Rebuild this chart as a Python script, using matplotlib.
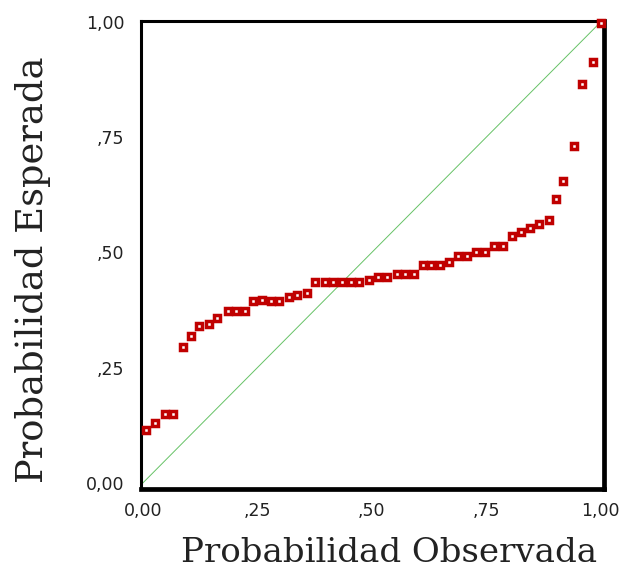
import matplotlib
matplotlib.use("Agg")
import matplotlib.pyplot as plt

# P-P plot values
observada = [0.008, 0.026, 0.048, 0.066, 0.087, 0.105, 0.123, 0.144, 0.163, 0.185,
             0.203, 0.223, 0.241, 0.260, 0.279, 0.298, 0.319, 0.336, 0.358, 0.376,
             0.397, 0.416, 0.435, 0.454, 0.473, 0.493, 0.513, 0.533, 0.554, 0.573,
             0.593, 0.611, 0.630, 0.648, 0.668, 0.689, 0.708, 0.728, 0.747, 0.767,
             0.786, 0.807, 0.825, 0.845, 0.865, 0.886, 0.902, 0.918, 0.942, 0.958,
             0.982, 1.000]
esperada = [0.114, 0.131, 0.149, 0.149, 0.296, 0.319, 0.341, 0.344, 0.357, 0.374,
            0.374, 0.374, 0.394, 0.396, 0.394, 0.394, 0.403, 0.408, 0.413, 0.435,
            0.435, 0.435, 0.435, 0.435, 0.435, 0.440, 0.446, 0.446, 0.453, 0.453,
            0.453, 0.473, 0.473, 0.473, 0.480, 0.492, 0.492, 0.500, 0.500, 0.513,
            0.514, 0.536, 0.545, 0.552, 0.561, 0.570, 0.617, 0.656, 0.731, 0.865,
            0.913, 0.998]

ticks = [0.0, 0.25, 0.5, 0.75, 1.0]
tick_labels = ["0,00", ",25", ",50", ",75", "1,00"]

fig = plt.figure(figsize=(6.26, 5.71), dpi=100)
ax = fig.add_axes([0.2252, 0.1436, 0.7396, 0.8196])

ax.plot([0, 1], [0, 1], color="#66c266", linewidth=0.7, zorder=1)
ax.plot(observada, esperada, linestyle="none", marker="s", markersize=4.9,
        markerfacecolor="white", markeredgecolor="#c00000", markeredgewidth=2.5,
        clip_on=False, zorder=5)

ax.set_xlim(-0.004, 1.007)
ax.set_ylim(-0.013, 1.002)
ax.set_xticks(ticks)
ax.set_xticklabels(tick_labels)
ax.set_yticks(ticks)
ax.set_yticklabels(tick_labels)
ax.tick_params(length=0, labelsize=12.5, colors="#222222")
ax.tick_params(axis="x", pad=9)
ax.tick_params(axis="y", pad=12)

for side in ["left", "top"]:
    ax.spines[side].set_linewidth(2.2)
for side in ["right", "bottom"]:
    ax.spines[side].set_linewidth(3.4)
for s in ax.spines.values():
    s.set_zorder(3)

fig.text(0.621, 0.032, "Probabilidad Observada", family="DejaVu Serif",
         fontsize=24.5, ha="center", va="center", color="#222222")
fig.text(0.053, 0.527, "Probabilidad Esperada", family="DejaVu Serif",
         fontsize=26.5, ha="center", va="center", rotation=90, color="#222222")

fig.savefig("out.png", dpi=100)
